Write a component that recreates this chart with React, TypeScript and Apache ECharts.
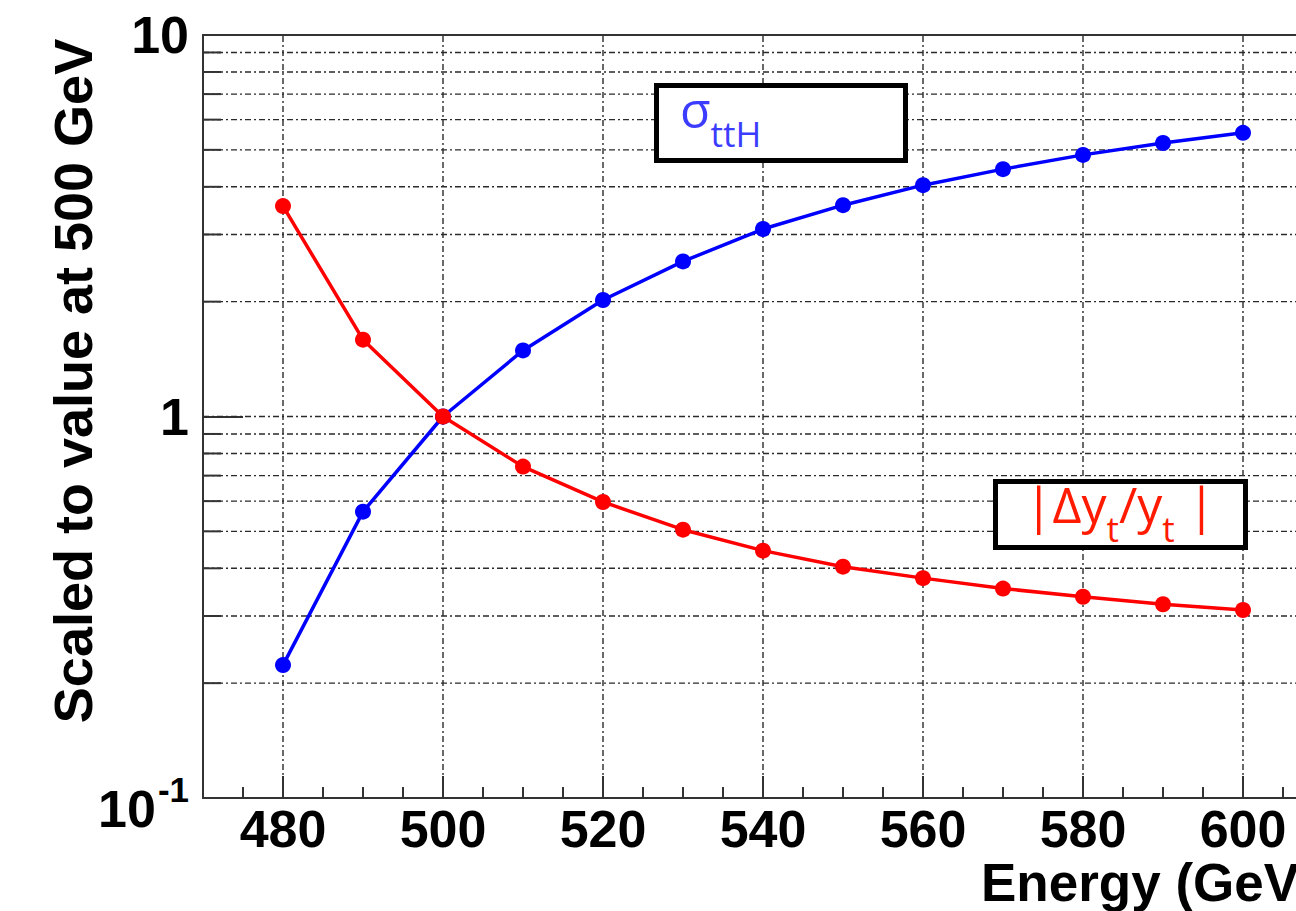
import React, { useEffect, useRef } from 'react';
import * as echarts from 'echarts';

// ---- data ----
const energies = [480, 490, 500, 510, 520, 530, 540, 550, 560, 570, 580, 590, 600];
const sigmaTTH = [0.223, 0.563, 1.0, 1.49, 2.02, 2.55, 3.1, 3.58, 4.04, 4.45, 4.85, 5.21, 5.54];
const deltaYt = [3.56, 1.59, 1.0, 0.739, 0.597, 0.505, 0.445, 0.404, 0.377, 0.354, 0.337, 0.322, 0.311];

const xMin = 470;
const xMax = 610;
const xTickStep = 5;
const xMajorTicks = [480, 500, 520, 540, 560, 580, 600];
const yMin = 0.1;
const yMax = 10;
const yGridValues = [0.2, 0.3, 0.4, 0.5, 0.6, 0.7, 0.8, 0.9, 1, 2, 3, 4, 5, 6, 7, 8, 9];
const yMinorTicks = [0.2, 0.3, 0.4, 0.5, 0.6, 0.7, 0.8, 0.9, 2, 3, 4, 5, 6, 7, 8, 9];

const AXIS_FONT = '"Liberation Sans", Arial, Helvetica, sans-serif';
const BOX_FONT = '"Open Sans", "Noto Sans", sans-serif';
const GRID_DASH = [6, 3, 2, 3];
const GRID_COLOR = '#2a2a2a';

export default function App() {
  const ref = useRef<HTMLDivElement>(null);

  useEffect(() => {
    if (!ref.current) return;
    const chart = echarts.init(ref.current, null, { renderer: 'svg' });

    const gridLine = (a: number[], b: number[]) => ({
      type: 'line',
      shape: { x1: a[0], y1: a[1], x2: b[0], y2: b[1] },
      style: { stroke: GRID_COLOR, lineWidth: 1.4, lineDash: GRID_DASH },
    });

    const option: any = {
      animation: false,
      backgroundColor: '#ffffff',
      grid: {
        left: 203,
        top: 35,
        right: 7,
        bottom: 113,
        show: true,
        borderColor: '#333',
        borderWidth: 2,
        backgroundColor: 'transparent',
        containLabel: false,
        outerBoundsMode: 'none',
      },
      xAxis: {
        type: 'value',
        min: xMin,
        max: xMax,
        interval: xTickStep,
        axisLine: { show: true, lineStyle: { color: '#333', width: 2 } },
        axisTick: { show: true, inside: true, length: 11, lineStyle: { color: '#333', width: 2 } },
        splitLine: { show: false },
        axisLabel: {
          show: true,
          margin: 5,
          fontSize: 52,
          fontWeight: 'bold',
          fontFamily: AXIS_FONT,
          color: '#000',
          formatter: (v: number) => (v % 20 === 0 ? String(v) : ''),
        },
      },
      yAxis: {
        type: 'log',
        logBase: 10,
        min: yMin,
        max: yMax,
        splitNumber: 2,
        axisLine: { show: true, lineStyle: { color: '#333', width: 2 } },
        axisTick: { show: true, inside: true, length: 40, lineStyle: { color: '#333', width: 2 } },
        splitLine: { show: false },
        axisLabel: {
          show: true,
          margin: 14,
          fontSize: 52,
          fontWeight: 'bold',
          fontFamily: AXIS_FONT,
          color: '#000',
          formatter: (v: number) => {
            if (v < 0.5) return '{b|10}{e|-1}';
            if (v > 5) return '10';
            return '1';
          },
          rich: {
            b: {
              fontSize: 52,
              fontWeight: 'bold',
              fontFamily: AXIS_FONT,
              color: '#000',
              lineHeight: 52,
              padding: [11, 0, 0, 0],
              verticalAlign: 'top',
            },
            e: {
              fontSize: 35,
              fontWeight: 'bold',
              fontFamily: AXIS_FONT,
              color: '#000',
              lineHeight: 35,
              padding: [0, 0, 0, 2],
              verticalAlign: 'top',
            },
          },
        },
      },
      series: [
        {
          name: 'vgrid',
          type: 'custom',
          silent: true,
          z: 1,
          data: xMajorTicks.map((x) => [x, yMin]),
          renderItem: (_p: any, api: any) =>
            gridLine(api.coord([api.value(0), yMin]), api.coord([api.value(0), yMax])),
        },
        {
          name: 'hgrid',
          type: 'custom',
          silent: true,
          z: 1,
          data: yGridValues.map((y) => [xMin, y]),
          renderItem: (_p: any, api: any) =>
            gridLine(api.coord([xMin, api.value(1)]), api.coord([xMax, api.value(1)])),
        },
        {
          name: 'yminor',
          type: 'custom',
          silent: true,
          z: 2,
          data: yMinorTicks.map((y) => [xMin, y]),
          renderItem: (_p: any, api: any) => {
            const a = api.coord([xMin, api.value(1)]);
            return {
              type: 'line',
              shape: { x1: a[0], y1: a[1], x2: a[0] + 18, y2: a[1] },
              style: { stroke: '#333', lineWidth: 2 },
            };
          },
        },
        {
          name: 'xmajor',
          type: 'custom',
          silent: true,
          z: 2,
          data: xMajorTicks.map((x) => [x, yMin]),
          renderItem: (_p: any, api: any) => {
            const a = api.coord([api.value(0), yMin]);
            return {
              type: 'line',
              shape: { x1: a[0], y1: a[1], x2: a[0], y2: a[1] - 22 },
              style: { stroke: '#333', lineWidth: 2 },
            };
          },
        },
        {
          name: 'sigma_ttH',
          type: 'line',
          z: 3,
          data: energies.map((e, i) => [e, sigmaTTH[i]]),
          symbol: 'circle',
          symbolSize: 16,
          lineStyle: { color: '#0000ff', width: 3.5 },
          itemStyle: { color: '#0000ff' },
        },
        {
          name: 'delta_yt',
          type: 'line',
          z: 4,
          data: energies.map((e, i) => [e, deltaYt[i]]),
          symbol: 'circle',
          symbolSize: 16,
          lineStyle: { color: '#ff0000', width: 3.5 },
          itemStyle: { color: '#ff0000' },
        },
      ],
      graphic: [
        {
          type: 'text',
          x: 73,
          y: 381,
          rotation: Math.PI / 2,
          style: {
            text: 'Scaled to value at 500 GeV',
            fontSize: 54,
            fontWeight: 'bold',
            fontFamily: AXIS_FONT,
            fill: '#000',
            align: 'center',
            verticalAlign: 'middle',
          },
        },
        {
          type: 'text',
          x: 981,
          y: 856,
          style: {
            text: 'Energy (GeV)',
            fontSize: 53,
            fontWeight: 'bold',
            fontFamily: AXIS_FONT,
            fill: '#000',
            align: 'left',
            verticalAlign: 'top',
          },
        },
        {
          type: 'rect',
          z: 100,
          shape: { x: 656.5, y: 85.5, width: 249, height: 75 },
          style: { fill: '#fff', stroke: '#000', lineWidth: 5 },
        },
        {
          type: 'text',
          z: 101,
          x: 680,
          y: 84,
          style: {
            text: '{m|σ}{s|ttH}',
            fill: '#3c3cff',
            align: 'left',
            verticalAlign: 'top',
            rich: {
              m: { fontSize: 50, fontFamily: BOX_FONT, fill: '#3c3cff', lineHeight: 58, verticalAlign: 'top' },
              s: { fontSize: 35, fontFamily: BOX_FONT, fill: '#3c3cff', lineHeight: 35, padding: [32, 0, 0, 0], verticalAlign: 'top' },
            },
          },
        },
        {
          type: 'rect',
          z: 100,
          shape: { x: 995.5, y: 481.5, width: 250, height: 66 },
          style: { fill: '#fff', stroke: '#000', lineWidth: 5 },
        },
        {
          type: 'text',
          z: 101,
          x: 1025,
          y: 479,
          style: {
            text: '{m||Δy}{s|t}{m|/y}{s|t}{m| |}',
            fill: '#ff1a00',
            align: 'left',
            verticalAlign: 'top',
            rich: {
              m: { fontSize: 50, fontFamily: BOX_FONT, fill: '#ff1a00', lineHeight: 58, verticalAlign: 'top' },
              s: { fontSize: 35, fontFamily: BOX_FONT, fill: '#ff1a00', lineHeight: 35, padding: [32, 0, 0, 0], verticalAlign: 'top' },
            },
          },
        },
      ],
    };

    chart.setOption(option);
    return () => chart.dispose();
  }, []);

  return (
    <div
      style={{
        position: 'absolute',
        left: 0,
        top: 0,
        width: 1296,
        height: 911,
        overflow: 'hidden',
        background: '#fff',
      }}
    >
      <div ref={ref} style={{ width: 1330, height: 911 }} />
    </div>
  );
}
